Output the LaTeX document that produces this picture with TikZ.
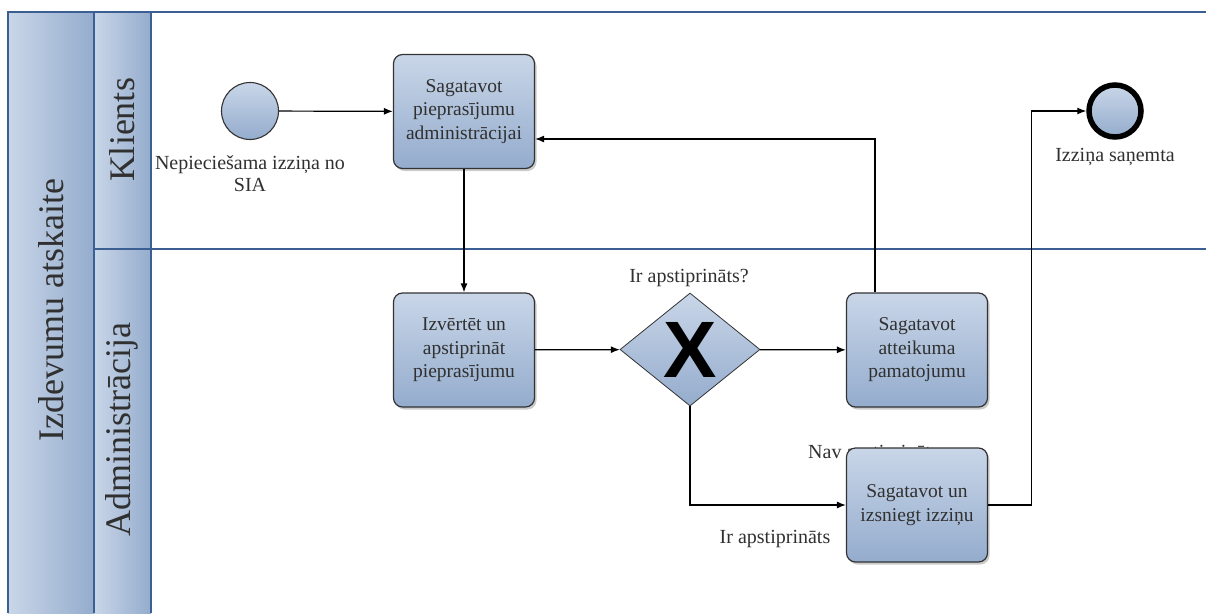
\documentclass[tikz,border=0pt]{standalone}
\usepackage{fontspec}
\setmainfont{Liberation Serif}
\newfontfamily\gatefont{Liberation Sans}
\usetikzlibrary{shapes.geometric,arrows.meta,shadows}

\definecolor{poolline}{HTML}{3B5E93}
\definecolor{fillTop}{HTML}{C9D6E8}
\definecolor{fillBot}{HTML}{94ACCD}
\definecolor{edge}{HTML}{333333}
\definecolor{txt}{HTML}{303030}

\tikzset{
  x=1pt, y=-1pt,
  hdr/.style={left color=fillTop, right color=fillBot},
  task/.style={rectangle, rounded corners=9pt, minimum width=141pt, minimum height=114pt,
    top color=fillTop, bottom color=fillBot, draw=edge, line width=1.2pt, align=center,
    text=txt, font=\fontsize{19.5}{23.5}\selectfont, inner sep=2pt,
    drop shadow={shadow xshift=2pt, shadow yshift=-2.5pt, fill=black!45, opacity=0.45}},
  gate/.style={diamond, minimum width=140pt, minimum height=113pt, aspect=1.24, inner sep=0pt,
    top color=fillTop, bottom color=fillBot, draw=edge, line width=0.8pt},
  evstart/.style={circle, minimum size=57pt, inner sep=0pt,
    top color=fillTop, bottom color=fillBot, draw=edge, line width=1.1pt},
  evend/.style={circle, minimum size=52pt, inner sep=0pt,
    top color=fillTop, bottom color=fillBot, draw=black, line width=5.5pt},
  lbl/.style={text=txt, font=\fontsize{20}{22}\selectfont, align=center, inner sep=0pt},
  lanetxt/.style={rotate=90, text=txt, font=\fontsize{36}{40}\selectfont},
  flow/.style={draw=black, line width=1.2pt, -{Latex[length=9pt,width=7pt]}}
}

\begin{document}
\begin{tikzpicture}
\useasboundingbox (0,0) rectangle (1206,613);

% pool and lanes
\fill[hdr] (8,12) rectangle (94,613);
\fill[hdr] (94,12) rectangle (151,613);
\draw[poolline, line width=1.2pt] (8,613) -- (8,12) -- (1206,12);
\draw[poolline, line width=1.2pt] (94,12) -- (94,613);
\draw[poolline, line width=1.2pt] (151,12) -- (151,613);
\draw[poolline, line width=1.2pt] (94,249) -- (1206,249);

\node[lanetxt] (pool) at (51,310) {Izdevumu atskaite};
\node[lanetxt] (laneA) at (122,130) {Klients};
\node[lanetxt] (laneB) at (122,430) {Administrācija};

% flow objects
\node[evstart] (start) at (250,111) {};
\node[lbl] (startlbl) at (250,174) {Nepieciešama izziņa no\\SIA};

\node[task] (prep) at (464,111.5) {Sagatavot\\pieprasījumu\\administrācijai};
\node[task] (check) at (464,350) {Izvērtēt un\\apstiprināt\\pieprasījumu};

\node[gate] (gw) at (690,349.5) {\gatefont\bfseries\fontsize{80}{80}\selectfont X};
\node[lbl] (gwlbl) at (689,278) {Ir apstiprināts?};

\node[task] (refuse) at (917,350) {Sagatavot\\atteikuma\\pamatojumu};

\node[lbl, anchor=west] (nolbl) at (808,454) {Nav apstiprināts};
\node[task] (issue) at (917,505) {Sagatavot un\\izsniegt izziņu};
\node[lbl] (yeslbl) at (775,539) {Ir apstiprināts};

\node[evend] (end) at (1115,111) {};
\node[lbl] (endlbl) at (1115,157) {Izziņa saņemta};

% sequence flows
\draw[flow] (start) -- (prep);
\draw[flow] (prep) -- (check);
\draw[flow] (check) -- (gw);
\draw[flow] (gw) -- (refuse);
\draw[flow] ([xshift=29pt]refuse.north west) |- ([yshift=-27.5pt]prep.east);
\draw[flow] (gw.south) |- (issue.west);
\draw[flow] (issue.east) -- ++(43,0) |- (end.west);
\end{tikzpicture}
\end{document}
